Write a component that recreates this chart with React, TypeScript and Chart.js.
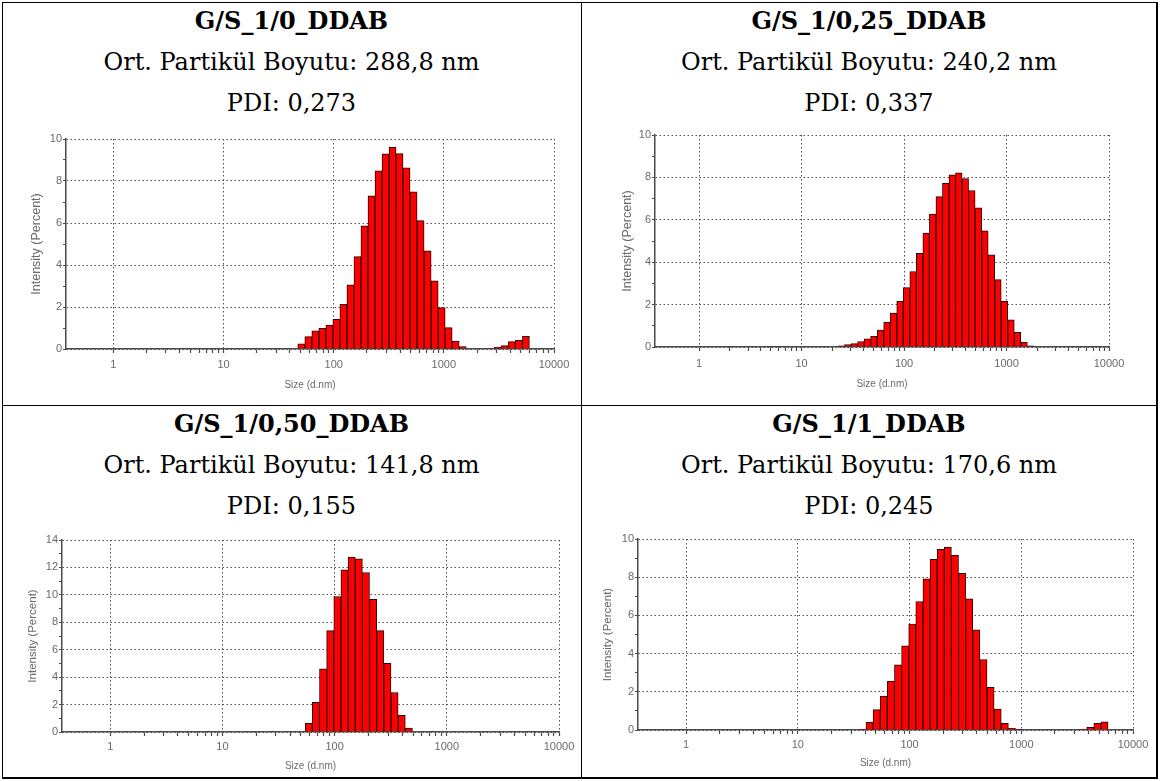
import React, { useEffect, useRef } from 'react';
import { Chart, registerables } from 'chart.js';

Chart.register(...registerables);

// Malvern size classes (d.nm), 70 logarithmic classes
const sizeClasses = [
  0.4, 0.4632, 0.5365, 0.6213, 0.7195, 0.8332, 0.9649, 1.117, 1.295, 1.499,
  1.736, 2.01, 2.328, 2.696, 3.122, 3.615, 4.187, 4.849, 5.615, 6.503,
  7.531, 8.721, 10.1, 11.7, 13.54, 15.69, 18.17, 21.04, 24.36, 28.21,
  32.67, 37.84, 43.82, 50.75, 58.77, 68.06, 78.82, 91.28, 105.7, 122.4,
  141.8, 164.2, 190.1, 220.2, 255.0, 295.3, 342.0, 396.1, 458.7, 531.2,
  615.1, 712.4, 825.0, 955.4, 1106, 1281, 1484, 1718, 1990, 2305,
  2669, 3091, 3580, 4145, 4801, 5560, 6439, 7456, 8635, 10000,
];

// Intensity (%) per size class
const intensityGS_1_0 = [
  0, 0, 0, 0, 0, 0, 0, 0, 0, 0,
  0, 0, 0, 0, 0, 0, 0, 0, 0, 0,
  0, 0, 0, 0, 0, 0, 0, 0, 0, 0,
  0, 0, 0, 0.25, 0.59, 0.86, 0.98, 1.14, 1.41, 2.13,
  3.05, 4.40, 5.87, 7.29, 8.48, 9.29, 9.62, 9.30, 8.63, 7.49,
  6.11, 4.67, 3.25, 1.97, 1.02, 0.38, 0.11, 0, 0, 0,
  0, 0.08, 0.16, 0.35, 0.41, 0.60, 0, 0, 0, 0,
];
const intensityGS_1_025 = [
  0, 0, 0, 0, 0, 0, 0, 0, 0, 0,
  0, 0, 0, 0, 0, 0, 0, 0, 0, 0,
  0, 0, 0, 0, 0, 0, 0, 0, 0.06, 0.11,
  0.16, 0.26, 0.38, 0.50, 0.80, 1.16, 1.60, 2.15, 2.80, 3.56,
  4.42, 5.37, 6.27, 7.09, 7.72, 8.12, 8.22, 7.94, 7.38, 6.56,
  5.48, 4.35, 3.18, 2.15, 1.28, 0.69, 0.22, 0.06, 0, 0,
  0, 0, 0, 0, 0, 0, 0, 0, 0, 0,
];
const intensityGS_1_050 = [
  0, 0, 0, 0, 0, 0, 0, 0, 0, 0,
  0, 0, 0, 0, 0, 0, 0, 0, 0, 0,
  0, 0, 0, 0, 0, 0, 0, 0, 0, 0,
  0, 0, 0, 0, 0.63, 2.17, 4.61, 7.39, 9.88, 11.83,
  12.76, 12.63, 11.63, 9.68, 7.39, 5.00, 2.88, 1.22, 0.29, 0,
  0, 0, 0, 0, 0, 0, 0, 0, 0, 0,
  0, 0, 0, 0, 0, 0, 0, 0, 0, 0,
];
const intensityGS_1_1 = [
  0, 0, 0, 0, 0, 0, 0, 0, 0, 0,
  0, 0, 0, 0, 0, 0, 0, 0, 0, 0,
  0, 0, 0, 0, 0, 0, 0, 0, 0, 0,
  0, 0.05, 0.40, 1.07, 1.78, 2.55, 3.41, 4.41, 5.54, 6.73,
  7.92, 8.93, 9.46, 9.58, 9.14, 8.20, 6.87, 5.24, 3.69, 2.24,
  1.10, 0.35, 0.09, 0.03, 0, 0, 0, 0, 0, 0,
  0, 0, 0.05, 0.14, 0.35, 0.43, 0, 0, 0, 0,
];

const sampleTitles = ['G/S_1/0_DDAB', 'G/S_1/0,25_DDAB', 'G/S_1/0,50_DDAB', 'G/S_1/1_DDAB'];
const meanSizeLabels = ['288,8', '240,2', '141,8', '170,6'];
const pdiLabels = ['0,273', '0,337', '0,155', '0,245'];
const yMaxValues = [10, 10, 14, 10];
const intensities = [intensityGS_1_0, intensityGS_1_025, intensityGS_1_050, intensityGS_1_1];

// axis ticks
const xMin = 0.371;
const xMax = 10000;
const xDecades = [1, 10, 100, 1000];
const xMultipliers = [1, 2, 3, 4, 5, 6, 7, 8, 9];
const xLabeledTicks = [1, 10, 100, 1000, 10000];
const xTickValues = [...xDecades.flatMap((d) => xMultipliers.map((m) => m * d)), 10000];

const yTitle = 'Intensity (Percent)';
const xTitle = 'Size (d.nm)';

// layout (page pixels) of each plot area
const PT = 10;
const PR = 25;
const YW = 40;
const XH = 44;
const boxes = [
  { L: 66, T: 139, R: 554, B: 349, yGap: 29, ySize: 12.5, xTick: 16, xTitleC: 36 },
  { L: 655, T: 135, R: 1109, B: 347, yGap: 27, ySize: 12.5, xTick: 17, xTitleC: 37 },
  { L: 62, T: 540, R: 559, B: 732, yGap: 29, ySize: 11.5, xTick: 15, xTitleC: 34 },
  { L: 638, T: 539, R: 1133, B: 730, yGap: 30.5, ySize: 11.5, xTick: 15, xTitleC: 33 },
];

const AXIS = '#4a4a4a';
const GRID = '#505050';
const TEXT = '#6a6a6a';
const SANS = "'Liberation Sans', Arial, sans-serif";
const SERIF = "'DejaVu Serif', serif";

function DlsChart({ idx }: { idx: number }) {
  const ref = useRef<HTMLCanvasElement>(null);
  const b = boxes[idx];
  const left = b.L - YW;
  const top = b.T - PT;
  const width = b.R - left + PR;
  const height = b.B - top + XH;

  useEffect(() => {
    const vals = intensities[idx];
    const tickFont = 11;
    const xTitleFont = 10;
    const chart = new Chart(ref.current as HTMLCanvasElement, {
      type: 'bar',
      data: {
        datasets: [
          {
            data: sizeClasses.map((s, i) => ({ x: s, y: vals[i] > 0 ? vals[i] : null })),
            xAxisID: 'xb',
            yAxisID: 'y',
            backgroundColor: '#ff0000',
            borderColor: '#2a0000',
            borderWidth: 1,
            barPercentage: 1,
            categoryPercentage: 1,
          } as any,
        ],
      },
      options: {
        responsive: false,
        animation: false,
        maintainAspectRatio: false,
        layout: { padding: { top: PT, right: PR, bottom: 0, left: 0 } },
        plugins: { legend: { display: false }, tooltip: { enabled: false } },
        scales: {
          xb: {
            type: 'logarithmic',
            axis: 'x',
            position: 'bottom',
            display: false,
            min: xMin,
            max: xMax,
            offset: false,
            ticks: { display: false },
            grid: { display: false, offset: false },
            afterBuildTicks: (s: any) => {
              s.ticks = [];
            },
          } as any,
          x: {
            type: 'logarithmic',
            position: 'bottom',
            min: xMin,
            max: xMax,
            offset: false,
            afterBuildTicks: (s: any) => {
              s.ticks = xTickValues.map((v) => ({ value: v, major: false }));
            },
            afterFit: (s: any) => {
              s.height = XH;
            },
            ticks: {
              autoSkip: false,
              maxRotation: 0,
              minRotation: 0,
              padding: b.xTick - 4 - (tickFont * 1.2) / 2,
              color: TEXT,
              font: { family: SANS, size: tickFont },
              callback: (v: any) => (xLabeledTicks.includes(Number(v)) ? String(v) : ''),
            },
            grid: {
              offset: false,
              color: (ctx: any) =>
                ctx.tick && xLabeledTicks.includes(ctx.tick.value) ? GRID : 'rgba(0,0,0,0)',
              tickColor: AXIS,
              tickLength: 4,
              tickWidth: 1.2,
              tickBorderDash: [],
              lineWidth: 1,
            },
            border: { color: AXIS, width: 1.5, dash: [1.5, 2.5] },
            title: {
              display: true,
              text: xTitle,
              color: TEXT,
              font: { family: SANS, size: xTitleFont },
              padding: { top: 0, bottom: XH - b.xTitleC - (xTitleFont * 1.2) / 2 },
            },
          } as any,
          y: {
            type: 'linear',
            min: 0,
            max: yMaxValues[idx],
            afterFit: (s: any) => {
              s.width = YW;
            },
            ticks: {
              stepSize: 1,
              autoSkip: false,
              padding: 1,
              color: TEXT,
              font: { family: SANS, size: tickFont },
              callback: (v: any) => (Number(v) % 2 === 0 ? String(v) : ''),
            },
            grid: {
              color: (ctx: any) =>
                ctx.tick && ctx.tick.value % 2 === 0 ? GRID : 'rgba(0,0,0,0)',
              tickColor: AXIS,
              tickLength: 3,
              tickWidth: 1.2,
              tickBorderDash: [],
              lineWidth: 1,
            },
            border: { color: AXIS, width: 1.5, dash: [1.5, 2.5] },
            title: {
              display: true,
              text: yTitle,
              color: TEXT,
              font: { family: SANS, size: b.ySize },
              padding: { top: YW - b.yGap - (b.ySize * 1.2) / 2, bottom: 0 },
            },
          } as any,
        },
      },
    });
    return () => chart.destroy();
  }, [idx]);

  return (
    <canvas
      ref={ref}
      width={width}
      height={height}
      style={{ position: 'absolute', left, top, width, height }}
    />
  );
}

const cellRects = [
  { x: 2, w: 579, y: 2 },
  { x: 581, w: 576, y: 2 },
  { x: 2, w: 579, y: 405 },
  { x: 581, w: 576, y: 405 },
];
const lineOffsets = [19, 60, 101];

function CellText({ idx }: { idx: number }) {
  const c = cellRects[idx];
  const lines = [
    sampleTitles[idx],
    `Ort. Partikül Boyutu: ${meanSizeLabels[idx]} nm`,
    `PDI: ${pdiLabels[idx]}`,
  ];
  return (
    <>
      {lines.map((t, i) => (
        <div
          key={i}
          style={{
            position: 'absolute',
            left: c.x,
            width: c.w,
            top: c.y + lineOffsets[i] - 15,
            height: 30,
            lineHeight: '30px',
            textAlign: 'center',
            fontFamily: SERIF,
            fontSize: 24,
            fontWeight: i === 0 ? 'bold' : 'normal',
            color: '#000',
            whiteSpace: 'nowrap',
          }}
        >
          {t}
        </div>
      ))}
    </>
  );
}

export default function App() {
  const line = (l: number, t: number, w: number, h: number) => (
    <div style={{ position: 'absolute', left: l, top: t, width: w, height: h, background: '#000' }} />
  );
  return (
    <div
      style={{
        position: 'absolute',
        left: 0,
        top: 0,
        width: 1161,
        height: 781,
        background: '#fff',
        overflow: 'hidden',
      }}
    >
      {line(2, 2, 1156, 1)}
      {line(2, 2, 1, 777)}
      {line(1156, 2, 2, 777)}
      {line(2, 777, 1156, 2)}
      {line(581, 2, 1, 777)}
      {line(2, 405, 1156, 1)}
      {[0, 1, 2, 3].map((i) => (
        <CellText key={'t' + i} idx={i} />
      ))}
      {[0, 1, 2, 3].map((i) => (
        <DlsChart key={'c' + i} idx={i} />
      ))}
    </div>
  );
}
